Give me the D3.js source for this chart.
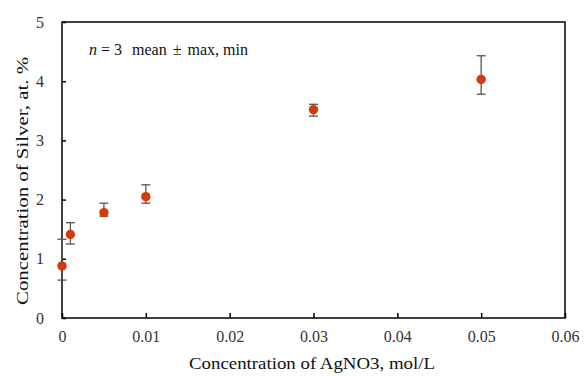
<!DOCTYPE html>
<html>
<head>
<meta charset="utf-8">
<script src="https://cdn.jsdelivr.net/npm/d3@7"></script>
<style>
  body { margin: 0; background: #fff; }
</style>
</head>
<body>
<div id="chart"></div>
<script>
// data
const conc = [0, 0.001, 0.005, 0.01, 0.03, 0.05];
const meanAg = [0.88, 1.41, 1.78, 2.05, 3.52, 4.03];
const maxAg = [1.33, 1.61, 1.94, 2.25, 3.61, 4.43];
const minAg = [0.64, 1.25, 1.72, 1.94, 3.41, 3.78];
const xTicks = [0, 0.01, 0.02, 0.03, 0.04, 0.05, 0.06];
const yTicks = [0, 1, 2, 3, 4, 5];

const serif = "'Liberation Serif', 'Times New Roman', Tinos, 'DejaVu Serif', serif";
const width = 584, height = 376;
const margin = { top: 22, right: 19, bottom: 58, left: 62 };
const w = width - margin.left - margin.right;
const h = height - margin.top - margin.bottom;

const svg = d3.select("#chart").append("svg")
    .attr("width", width)
    .attr("height", height);

const g = svg.append("g")
    .attr("transform", `translate(${margin.left}, ${margin.top})`);

const x = d3.scaleLinear().domain([0, 0.06]).range([0, w]);
const y = d3.scaleLinear().domain([0, 5]).range([h, 0]);

// frame
g.append("rect")
    .attr("x", 0).attr("y", 0)
    .attr("width", w).attr("height", h)
    .attr("fill", "none")
    .attr("stroke", "#000")
    .attr("stroke-width", 1.5);

// x axis: inward ticks
const xAxis = g.append("g")
    .attr("transform", `translate(0, ${h})`)
    .call(d3.axisBottom(x).tickValues(xTicks).tickSizeInner(-5).tickSizeOuter(0).tickPadding(13)
        .tickFormat(d => d === 0 ? "0" : d3.format(".2f")(d)));
xAxis.attr("font-family", serif).attr("font-size", 16);
xAxis.select(".domain").remove();
xAxis.selectAll("line").attr("stroke", "#000").attr("stroke-width", 1.5);
xAxis.selectAll("text").attr("fill", "#333");

// y axis
const yAxis = g.append("g")
    .call(d3.axisLeft(y).tickValues(yTicks).tickSizeInner(-4).tickSizeOuter(0).tickPadding(18)
        .tickFormat(d3.format("d")));
yAxis.attr("font-family", serif).attr("font-size", 16);
yAxis.select(".domain").remove();
yAxis.selectAll("line").attr("stroke", "#000").attr("stroke-width", 1.5);
yAxis.selectAll("text").attr("fill", "#333")
    .attr("text-anchor", "middle").attr("dx", "-4");

// error bars
const capW = 4.5;
const bars = g.append("g");
conc.forEach((c, i) => {
    const cx = x(c);
    bars.append("line")
        .attr("x1", cx).attr("x2", cx)
        .attr("y1", y(maxAg[i])).attr("y2", y(minAg[i]))
        .attr("stroke", "#555").attr("stroke-width", 1.3);
    [maxAg[i], minAg[i]].forEach(v => {
        bars.append("line")
            .attr("x1", cx - capW).attr("x2", cx + capW)
            .attr("y1", y(v)).attr("y2", y(v))
            .attr("stroke", "#555").attr("stroke-width", 1.3);
    });
});

// points
g.append("g").selectAll("circle")
    .data(conc)
    .enter().append("circle")
    .attr("cx", d => x(d))
    .attr("cy", (d, i) => y(meanAg[i]))
    .attr("r", 4.7)
    .attr("fill", "#d63a0c");

// legend note
const note = g.append("text")
    .attr("x", 27)
    .attr("y", 33)
    .attr("font-family", serif)
    .attr("font-size", 16)
    .attr("fill", "#111");
note.append("tspan").attr("font-style", "italic").text("n");
note.append("tspan").attr("dx", 4).text("= 3");
note.append("tspan").attr("dx", 10).text("mean");
note.append("tspan").attr("dx", 6).text("±");
note.append("tspan").attr("dx", 6).text("max, min");

// axis titles
svg.append("text")
    .attr("x", 312)
    .attr("y", 369)
    .attr("text-anchor", "middle")
    .attr("font-family", serif)
    .attr("font-size", 17)
    .attr("fill", "#111")
    .attr("textLength", 246)
    .attr("lengthAdjust", "spacingAndGlyphs")
    .text("Concentration of AgNO3, mol/L");

svg.append("text")
    .attr("transform", `translate(28, 181) rotate(-90)`)
    .attr("text-anchor", "middle")
    .attr("font-family", serif)
    .attr("font-size", 17)
    .attr("fill", "#111")
    .attr("textLength", 248)
    .attr("lengthAdjust", "spacingAndGlyphs")
    .text("Concentration of Silver, at. %");
</script>
</body>
</html>
